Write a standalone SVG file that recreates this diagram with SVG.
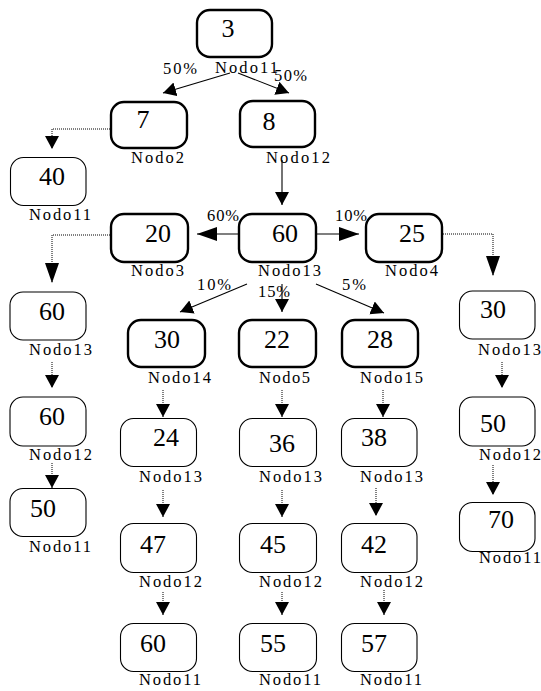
<svg xmlns="http://www.w3.org/2000/svg" width="541" height="691" viewBox="0 0 541 691">
<style>
.bx{fill:#fff;stroke:#000;stroke-width:2.4}
.tn{fill:#fff;stroke:#000;stroke-width:1.1}
.num{font-family:"Liberation Serif","DejaVu Serif",serif;font-size:26px;text-anchor:middle;fill:#000}
.lb{font-family:"Liberation Serif","DejaVu Serif",serif;font-size:16.5px;fill:#000}
.sl{fill:none;stroke:#000;stroke-width:1.1}
.dl{fill:none;stroke:#000;stroke-width:1;stroke-dasharray:1 1}
</style>
<defs>
<marker id="a" markerUnits="userSpaceOnUse" markerWidth="14" markerHeight="15" refX="13" refY="7" orient="auto" viewBox="0 0 14 15"><path d="M0,0 L13,7 L0,14 z" fill="#000"/></marker>
<marker id="b" markerUnits="userSpaceOnUse" markerWidth="21" markerHeight="15" refX="20" refY="7" orient="auto" viewBox="0 0 21 15"><path d="M0,0 L20,7 L0,14 z" fill="#000"/></marker>
</defs>
<g id="connectors">
<path class="sl" d="M230,73 L163,93" marker-end="url(#a)"/>
<path class="sl" d="M238,73 L289,93" marker-end="url(#a)"/>
<path class="sl" d="M282,160 V205" marker-end="url(#a)"/>
<path class="sl" d="M239,234 H197" marker-end="url(#b)"/>
<path class="sl" d="M316,234 H359" marker-end="url(#b)"/>
<path class="sl" d="M247,284 L180,312" marker-end="url(#a)"/>
<path class="sl" d="M282,284 V312" marker-end="url(#a)"/>
<path class="sl" d="M316,284 L384,313" marker-end="url(#a)"/>
<path class="dl" d="M110,129 H52 V149" marker-end="url(#a)"/>
<path class="dl" d="M110,235 H52 V283" marker-end="url(#b)"/>
<path class="dl" d="M443,234 H493 V276" marker-end="url(#b)"/>
<path class="dl" d="M52,362 V388" marker-end="url(#a)"/>
<path class="dl" d="M52,463 V488" marker-end="url(#a)"/>
<path class="dl" d="M502,362 V388" marker-end="url(#a)"/>
<path class="dl" d="M493,465 V495" marker-end="url(#a)"/>
<path class="dl" d="M163,390 V417" marker-end="url(#a)"/>
<path class="dl" d="M282,390 V417" marker-end="url(#a)"/>
<path class="dl" d="M383,390 V417" marker-end="url(#a)"/>
<path class="dl" d="M163,490 V517" marker-end="url(#a)"/>
<path class="dl" d="M282,490 V517" marker-end="url(#a)"/>
<path class="dl" d="M376,488 V516" marker-end="url(#a)"/>
<path class="dl" d="M163,592 V615" marker-end="url(#a)"/>
<path class="dl" d="M282,592 V615" marker-end="url(#a)"/>
<path class="dl" d="M384,590 V615" marker-end="url(#a)"/>
</g>
<g id="edge-labels">
<text class="lb" x="163" y="74" textLength="34" lengthAdjust="spacing">50%</text>
<text class="lb" x="274" y="81" textLength="33" lengthAdjust="spacing">50%</text>
<text class="lb" x="207" y="221" textLength="32" lengthAdjust="spacing">60%</text>
<text class="lb" x="335" y="221" textLength="32" lengthAdjust="spacing">10%</text>
<text class="lb" x="197" y="290" textLength="34" lengthAdjust="spacing">10%</text>
<text class="lb" x="258" y="297" textLength="32" lengthAdjust="spacing">15%</text>
<text class="lb" x="342" y="290" textLength="24" lengthAdjust="spacing">5%</text>
</g>
<g id="n3"><rect class="bx" x="197" y="10" width="75" height="47" rx="13"/><text class="num" x="228" y="37">3</text><text class="lb" x="215" y="73" textLength="63" lengthAdjust="spacing">Nodo11</text></g>
<g id="n7"><rect class="bx" x="111" y="102" width="76" height="46" rx="13"/><text class="num" x="143" y="128">7</text><text class="lb" x="131" y="163" textLength="53" lengthAdjust="spacing">Nodo2</text></g>
<g id="n8"><rect class="bx" x="240" y="101" width="75" height="46" rx="13"/><text class="num" x="269" y="130">8</text><text class="lb" x="266" y="163" textLength="64" lengthAdjust="spacing">Nodo12</text></g>
<g id="n40"><rect class="tn" x="10.5" y="157.5" width="75.5" height="48" rx="13"/><text class="num" x="52" y="185">40</text><text class="lb" x="29" y="220" textLength="62" lengthAdjust="spacing">Nodo11</text></g>
<g id="n20"><rect class="bx" x="111" y="214" width="77" height="48" rx="13"/><text class="num" x="158" y="242">20</text><text class="lb" x="131" y="276" textLength="53" lengthAdjust="spacing">Nodo3</text></g>
<g id="n60"><rect class="bx" x="239" y="214" width="77" height="48" rx="13"/><text class="num" x="285" y="242">60</text><text class="lb" x="258" y="276" textLength="63" lengthAdjust="spacing">Nodo13</text></g>
<g id="n25"><rect class="bx" x="366" y="214" width="76" height="48" rx="13"/><text class="num" x="412" y="242">25</text><text class="lb" x="385" y="276" textLength="53" lengthAdjust="spacing">Nodo4</text></g>
<g id="l60a"><rect class="tn" x="10" y="292" width="76" height="48" rx="13"/><text class="num" x="52" y="320">60</text><text class="lb" x="29" y="355" textLength="63" lengthAdjust="spacing">Nodo13</text></g>
<g id="r30"><rect class="tn" x="459.5" y="291" width="75.5" height="48" rx="13"/><text class="num" x="493" y="318">30</text><text class="lb" x="478" y="355" textLength="63" lengthAdjust="spacing">Nodo13</text></g>
<g id="n30"><rect class="bx" x="128" y="320" width="77" height="47" rx="13"/><text class="num" x="167" y="348">30</text><text class="lb" x="148" y="383" textLength="63" lengthAdjust="spacing">Nodo14</text></g>
<g id="n22"><rect class="bx" x="239" y="320" width="77" height="47" rx="13"/><text class="num" x="277" y="348">22</text><text class="lb" x="259" y="383" textLength="51" lengthAdjust="spacing">Nodo5</text></g>
<g id="n28"><rect class="bx" x="342" y="320" width="76" height="47" rx="13"/><text class="num" x="380" y="348">28</text><text class="lb" x="360" y="383" textLength="63" lengthAdjust="spacing">Nodo15</text></g>
<g id="l60b"><rect class="tn" x="10" y="397" width="76" height="49" rx="13"/><text class="num" x="52" y="425">60</text><text class="lb" x="29" y="460" textLength="63" lengthAdjust="spacing">Nodo12</text></g>
<g id="r50"><rect class="tn" x="459.5" y="397" width="75.5" height="49" rx="13"/><text class="num" x="493" y="432">50</text><text class="lb" x="479" y="460" textLength="62" lengthAdjust="spacing">Nodo12</text></g>
<g id="n24"><rect class="tn" x="120.5" y="418.5" width="76" height="48" rx="13"/><text class="num" x="166" y="446">24</text><text class="lb" x="139" y="482" textLength="63" lengthAdjust="spacing">Nodo13</text></g>
<g id="n36"><rect class="tn" x="239.5" y="418.5" width="77" height="48" rx="13"/><text class="num" x="282" y="452">36</text><text class="lb" x="259" y="482" textLength="63" lengthAdjust="spacing">Nodo13</text></g>
<g id="n38"><rect class="tn" x="341.5" y="418.5" width="75.5" height="48" rx="13"/><text class="num" x="374" y="446">38</text><text class="lb" x="360" y="482" textLength="63" lengthAdjust="spacing">Nodo13</text></g>
<g id="l50"><rect class="tn" x="10" y="488.5" width="76" height="48" rx="13"/><text class="num" x="43" y="517">50</text><text class="lb" x="29" y="552" textLength="62" lengthAdjust="spacing">Nodo11</text></g>
<g id="r70"><rect class="tn" x="459.5" y="502.5" width="75.5" height="49" rx="13"/><text class="num" x="501" y="528">70</text><text class="lb" x="479" y="563" textLength="62" lengthAdjust="spacing">Nodo11</text></g>
<g id="n47"><rect class="tn" x="120.5" y="523.5" width="76" height="49" rx="13"/><text class="num" x="153" y="553">47</text><text class="lb" x="139" y="587" textLength="63" lengthAdjust="spacing">Nodo12</text></g>
<g id="n45"><rect class="tn" x="239.5" y="523.5" width="77" height="49" rx="13"/><text class="num" x="273" y="553">45</text><text class="lb" x="259" y="587" textLength="63" lengthAdjust="spacing">Nodo12</text></g>
<g id="n42"><rect class="tn" x="341.5" y="523.5" width="75.5" height="49" rx="13"/><text class="num" x="374" y="553">42</text><text class="lb" x="360" y="587" textLength="63" lengthAdjust="spacing">Nodo12</text></g>
<g id="n60b"><rect class="tn" x="120.5" y="623.5" width="76" height="48" rx="13"/><text class="num" x="153" y="652">60</text><text class="lb" x="139" y="685" textLength="62" lengthAdjust="spacing">Nodo11</text></g>
<g id="n55"><rect class="tn" x="239.5" y="623.5" width="77" height="48" rx="13"/><text class="num" x="273" y="652">55</text><text class="lb" x="259" y="685" textLength="62" lengthAdjust="spacing">Nodo11</text></g>
<g id="n57"><rect class="tn" x="341.5" y="623.5" width="75.5" height="48" rx="13"/><text class="num" x="374" y="652">57</text><text class="lb" x="360" y="685" textLength="62" lengthAdjust="spacing">Nodo11</text></g>
</svg>
